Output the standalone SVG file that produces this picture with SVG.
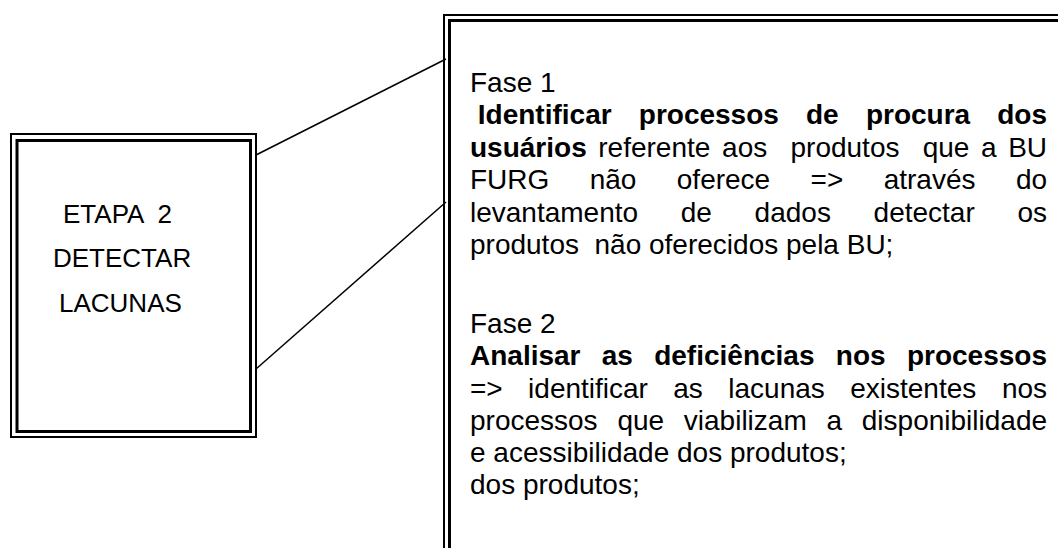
<svg xmlns="http://www.w3.org/2000/svg" width="1058" height="548" viewBox="0 0 1058 548">
<style>
.frame{fill:none;stroke:#000}
.thin{stroke-width:2}
.thick{stroke-width:3}
.conn{stroke:#000;stroke-width:1.5;fill:none}
text{font-family:"Liberation Sans",Arial,sans-serif;fill:#000;white-space:pre}
.lb{font-size:26px}
.t{font-size:28px}
.b{font-weight:bold}
</style>
<rect width="1058" height="548" fill="#fff"/>
<g id="connectors">
<line class="conn" x1="256" y1="155" x2="446" y2="59"/>
<line class="conn" x1="256" y1="369" x2="446" y2="202"/>
</g>
<g id="etapa2">
<rect class="frame thin" x="11" y="134" width="245" height="303"/>
<rect class="frame thick" x="17" y="140.5" width="233.5" height="291"/>
<text class="lb" x="63" y="223">ETAPA  2</text>
<text class="lb" x="53" y="267">DETECTAR</text>
<text class="lb" x="59" y="312">LACUNAS</text>
</g>
<g id="fases">
<rect class="frame thin" x="444" y="15" width="700" height="600"/>
<rect class="frame thick" x="449.5" y="20.5" width="700" height="600"/>
<text class="t" x="470" y="91.5">Fase 1</text>
<text class="t b" y="124"><tspan x="477.8">Identificar</tspan><tspan x="638.8">processos</tspan><tspan x="806">de</tspan><tspan x="865.9">procura</tspan><tspan x="997.2">dos</tspan></text>
<text class="t" y="156.5"><tspan class="b" x="470">usuários</tspan><tspan x="598.3">referente</tspan><tspan x="722.1">aos</tspan><tspan x="790.5">produtos</tspan><tspan x="922.7">que</tspan><tspan x="981">a</tspan><tspan x="1008.2">BU</tspan></text>
<text class="t" y="189"><tspan x="470">FURG</tspan><tspan x="589.7">não</tspan><tspan x="676.8">oferece</tspan><tspan x="810.6">=&gt;</tspan><tspan x="883.7">através</tspan><tspan x="1015.9">do</tspan></text>
<text class="t" y="221.5"><tspan x="470">levantamento</tspan><tspan x="680.8">de</tspan><tspan x="754.6">dados</tspan><tspan x="873.6">detectar</tspan><tspan x="1017.4">os</tspan></text>
<text class="t" x="470" y="254">produtos  não oferecidos pela BU;</text>
<text class="t" x="470" y="333">Fase 2</text>
<text class="t b" y="365"><tspan x="470">Analisar</tspan><tspan x="601.8">as</tspan><tspan x="654.2">deficiências</tspan><tspan x="835.8">nos</tspan><tspan x="906.9">processos</tspan></text>
<text class="t" y="397.5"><tspan x="470">=&gt;</tspan><tspan x="528.1">identificar</tspan><tspan x="673.3">as</tspan><tspan x="728.3">lacunas</tspan><tspan x="850.2">existentes</tspan><tspan x="1001.9">nos</tspan></text>
<text class="t" y="430"><tspan x="470">processos</tspan><tspan x="617.4">que</tspan><tspan x="683.8">viabilizam</tspan><tspan x="826.5">a</tspan><tspan x="861.8">disponibilidade</tspan></text>
<text class="t" x="470" y="462">e acessibilidade dos produtos;</text>
<text class="t" x="470" y="494">dos produtos;</text>
</g>
</svg>
